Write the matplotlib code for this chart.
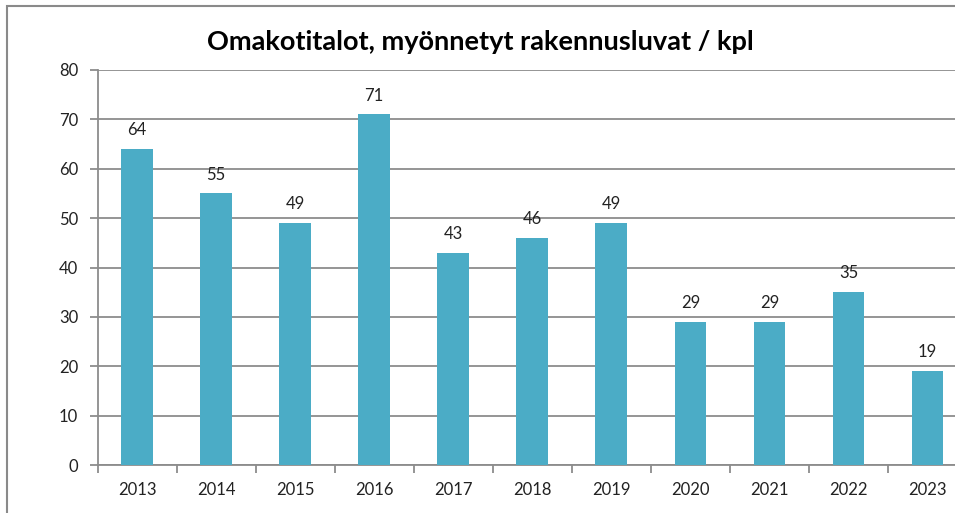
import matplotlib
matplotlib.use("Agg")
import matplotlib.pyplot as plt
from matplotlib.patches import Rectangle
import numpy as np

years = ["2013", "2014", "2015", "2016", "2017", "2018", "2019", "2020", "2021", "2022", "2023"]
values = [64, 55, 49, 71, 43, 46, 49, 29, 29, 35, 19]
yticks = [0, 10, 20, 30, 40, 50, 60, 70, 80]
title = "Omakotitalot, myönnetyt rakennusluvat / kpl"

W, H = 955, 513
fig = plt.figure(figsize=(W / 100, H / 100), dpi=100)
plt.rcParams['font.family'] = ['Lato', 'DejaVu Sans']

# figure border
fig.patches.append(Rectangle((7 / W, -0.1), 1.2, (H - 6) / H + 0.1, transform=fig.transFigure,
                             fill=False, edgecolor="#8a8a8a", linewidth=1.5))

ax = fig.add_axes([97.5 / W, (H - 465) / H, (967 - 97.5) / W, (465 - 70) / H])
x = np.arange(len(years))
bars = ax.bar(x, values, width=0.4, color="#4BACC6", zorder=3)
for xi, v in zip(x, values):
    ax.text(xi, v + 2.2, str(v), ha="center", va="bottom", fontsize=12, color="#222222")

ax.set_xlim(-0.5, len(years) - 0.5)
ax.set_ylim(0, 80)
ax.set_yticks(yticks)
ax.set_yticklabels([str(t) for t in yticks], fontsize=12, color="#222222")
ax.yaxis.grid(True, color="#8c8c8c", linewidth=1.3, zorder=0)
ax.set_axisbelow(True)

ax.set_xticks(x)
ax.set_xticklabels(years, fontsize=12, color="#222222")
ax.set_xticks(np.arange(len(years) + 1) - 0.5, minor=True)
ax.tick_params(axis="x", which="major", length=0, pad=12)
ax.tick_params(axis="x", which="minor", length=6, color="#8c8c8c", width=1.3, direction="out")
ax.tick_params(axis="y", length=6, color="#8c8c8c", width=1.3, direction="out", pad=8)

for s in ["top", "right"]:
    ax.spines[s].set_visible(False)
for s in ["left", "bottom"]:
    ax.spines[s].set_color("#8c8c8c")
    ax.spines[s].set_linewidth(1.3)

fig.text(480 / W, 1 - 42 / H, title, ha="center", va="center", fontsize=19.5, fontweight="bold", color="#000000")

fig.savefig("out.png", dpi=100)
